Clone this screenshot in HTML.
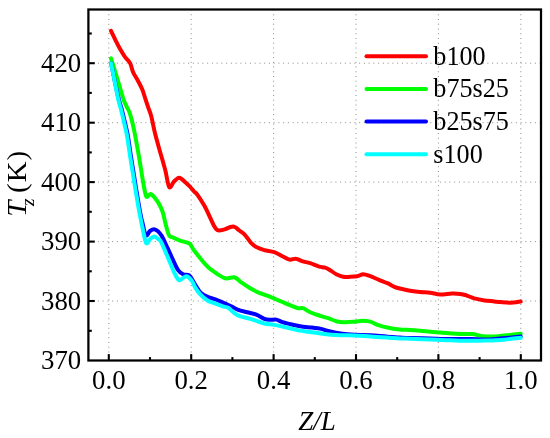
<!DOCTYPE html><html><head><meta charset="utf-8"><title>Tz vs Z/L</title><style>html,body{margin:0;padding:0;background:#fff}svg{display:block}text{font-family:"Liberation Serif","Times New Roman",serif;fill:#000}</style></head><body>
<svg width="550" height="438" viewBox="0 0 550 438">
<rect width="550" height="438" fill="#fff"/>
<g stroke="#8c8c8c" stroke-width="1" stroke-dasharray="1 3.75" fill="none"><line x1="108.8" y1="9.5" x2="108.8" y2="360.5"/><line x1="191.2" y1="9.5" x2="191.2" y2="360.5"/><line x1="273.6" y1="9.5" x2="273.6" y2="360.5"/><line x1="356.0" y1="9.5" x2="356.0" y2="360.5"/><line x1="438.4" y1="9.5" x2="438.4" y2="360.5"/><line x1="520.8" y1="9.5" x2="520.8" y2="360.5"/><line x1="88.4" y1="301.0" x2="541.0" y2="301.0"/><line x1="88.4" y1="241.6" x2="541.0" y2="241.6"/><line x1="88.4" y1="182.1" x2="541.0" y2="182.1"/><line x1="88.4" y1="122.7" x2="541.0" y2="122.7"/><line x1="88.4" y1="63.2" x2="541.0" y2="63.2"/></g>
<path d="M111.0 30.8C111.7 32.2 113.6 36.2 115.1 39.3C116.6 42.3 118.4 46.1 120.1 49.1C121.8 52.1 123.4 54.8 125.1 57.1C126.8 59.5 128.8 60.7 130.1 63.2C131.4 65.7 131.8 69.2 133.1 72.2C134.4 75.2 136.7 78.4 138.2 81.2C139.7 84.0 141.0 86.5 142.2 89.3C143.4 92.1 144.2 95.3 145.2 98.3C146.2 101.3 147.2 104.3 148.2 107.3C149.2 110.3 150.0 111.6 151.2 116.1C152.4 120.6 153.7 128.1 155.2 134.1C156.7 140.1 158.5 146.2 160.2 152.2C161.9 158.2 163.8 164.5 165.3 170.3C166.8 176.1 167.8 185.2 169.2 187.1C170.6 189.0 172.3 183.1 174.0 181.5C175.7 179.9 177.5 177.6 179.3 177.7C181.1 177.8 183.2 180.4 185.0 182.0C186.8 183.6 188.8 185.4 190.3 187.0C191.8 188.6 192.8 190.2 194.0 191.5C195.2 192.8 195.8 192.4 197.5 194.8C199.2 197.2 202.2 201.9 204.4 205.8C206.6 209.7 208.8 214.8 210.4 218.2C212.0 221.6 212.9 224.0 214.1 226.0C215.2 228.0 216.2 229.4 217.3 230.1C218.5 230.8 219.7 230.5 221.0 230.3C222.3 230.1 223.9 229.6 225.3 229.1C226.7 228.6 228.2 227.8 229.5 227.3C230.8 226.9 232.2 226.3 233.3 226.4C234.4 226.5 235.2 227.2 236.2 227.8C237.1 228.5 237.6 229.2 239.0 230.3C240.4 231.4 242.6 232.6 244.6 234.6C246.6 236.6 248.9 240.5 250.8 242.6C252.8 244.7 254.1 245.8 256.3 247.1C258.6 248.3 261.3 249.3 264.3 250.1C267.3 250.9 271.3 251.1 274.3 252.1C277.3 253.1 279.9 254.9 282.4 256.2C284.9 257.4 287.1 259.2 289.4 259.6C291.7 260.0 293.9 258.4 296.0 258.7C298.1 258.9 299.6 260.4 302.0 261.1C304.4 261.9 307.2 262.3 310.1 263.2C313.0 264.1 316.6 265.9 319.1 266.6C321.6 267.3 323.2 267.0 325.1 267.6C327.0 268.2 328.4 269.1 330.2 270.2C332.0 271.3 334.0 273.1 336.2 274.2C338.4 275.3 340.9 276.4 343.2 276.8C345.5 277.2 347.8 276.9 350.2 276.8C352.6 276.7 355.1 276.6 357.3 276.2C359.5 275.8 361.1 274.2 363.3 274.2C365.5 274.2 367.8 275.3 370.3 276.2C372.8 277.1 375.5 278.4 378.4 279.6C381.2 280.8 384.7 282.0 387.4 283.2C390.1 284.4 392.3 285.9 394.4 286.8C396.5 287.7 397.4 287.9 400.0 288.5C402.6 289.1 406.8 290.1 410.1 290.7C413.5 291.3 416.8 291.8 420.1 292.1C423.5 292.4 426.9 292.3 430.2 292.7C433.5 293.1 436.6 294.4 440.2 294.5C443.8 294.6 448.6 293.6 452.0 293.5C455.4 293.4 457.9 293.6 460.3 293.9C462.7 294.2 464.0 294.6 466.3 295.3C468.6 296.1 471.3 297.5 474.3 298.4C477.3 299.2 481.0 299.9 484.4 300.4C487.8 300.9 491.8 301.1 494.4 301.4C497.0 301.7 497.5 301.9 500.2 302.1C502.9 302.3 506.9 302.8 510.3 302.7C513.7 302.6 519.0 301.7 520.7 301.5" fill="none" stroke="#ff0000" stroke-width="4" stroke-linecap="round" stroke-linejoin="round"/>
<path d="M111.0 58.4C111.7 60.5 113.6 66.4 115.0 71.0C116.4 75.6 118.0 81.2 119.5 86.0C121.0 90.8 122.5 96.5 123.7 100.0C125.0 103.5 125.9 105.0 127.0 107.3C128.1 109.6 128.9 110.3 130.1 114.1C131.3 117.9 132.8 123.8 134.1 130.1C135.4 136.4 137.0 145.5 138.2 152.2C139.4 158.9 140.4 165.3 141.2 170.3C142.0 175.3 142.3 177.7 143.1 182.0C143.9 186.3 145.1 193.9 146.1 196.1C147.1 198.3 148.1 195.2 149.0 195.0C149.9 194.8 150.3 193.4 151.8 194.6C153.3 195.8 156.2 199.2 158.0 202.1C159.8 205.0 161.4 208.3 162.7 212.0C164.0 215.7 164.5 220.1 165.6 224.0C166.7 227.9 167.8 233.2 169.0 235.4C170.2 237.6 170.7 236.4 172.5 237.3C174.3 238.2 177.3 239.6 180.1 240.6C182.9 241.6 187.2 242.1 189.4 243.5C191.6 244.9 191.4 246.8 193.2 249.2C195.0 251.6 197.7 255.2 200.2 258.2C202.7 261.2 205.5 264.7 208.2 267.2C210.9 269.7 213.5 271.4 216.3 273.3C219.2 275.2 222.3 277.6 225.3 278.3C228.3 279.0 231.7 276.6 234.3 277.3C237.0 278.0 238.5 280.5 241.2 282.3C243.8 284.1 247.2 286.5 250.2 288.3C253.2 290.1 256.0 291.5 259.3 292.9C262.7 294.3 267.1 295.7 270.3 296.9C273.5 298.1 276.0 299.3 278.4 300.3C280.8 301.3 282.5 302.0 284.4 302.8C286.3 303.6 287.7 304.2 290.0 305.1C292.3 306.0 295.8 307.7 298.0 308.2C300.2 308.7 301.1 307.5 303.1 308.2C305.1 308.9 307.3 310.9 310.1 312.2C312.9 313.5 317.1 314.8 320.1 315.8C323.1 316.8 325.5 317.3 328.2 318.2C330.9 319.1 333.5 320.5 336.2 321.2C338.9 321.9 341.2 322.1 344.2 322.2C347.2 322.3 351.3 322.0 354.3 321.8C357.3 321.6 359.6 320.8 362.3 320.8C365.0 320.8 367.6 320.9 370.3 321.6C373.0 322.3 375.4 324.2 378.4 325.2C381.4 326.2 384.8 327.1 388.4 327.8C392.0 328.5 396.4 329.3 400.0 329.6C403.6 330.0 406.8 329.7 410.1 329.9C413.5 330.1 416.8 330.4 420.1 330.7C423.5 331.0 426.9 331.4 430.2 331.7C433.5 332.0 435.9 332.1 440.2 332.4C444.5 332.7 450.8 333.4 456.1 333.7C461.4 334.0 468.1 333.8 472.1 334.1C476.1 334.4 477.5 335.3 480.2 335.7C482.9 336.1 485.2 336.5 488.2 336.6C491.2 336.7 494.5 336.5 498.2 336.2C501.9 336.0 506.6 335.3 510.3 334.9C514.1 334.5 519.0 334.0 520.7 333.8" fill="none" stroke="#00ff00" stroke-width="4" stroke-linecap="round" stroke-linejoin="round"/>
<path d="M111.2 63.2C111.9 66.7 114.1 77.9 115.4 84.0C116.7 90.1 118.1 96.1 119.0 100.0C120.0 103.9 120.4 104.3 121.2 107.3C122.0 110.3 122.8 113.3 123.9 118.1C125.0 122.9 126.8 130.1 127.9 136.1C129.0 142.1 129.7 148.4 130.6 154.2C131.5 160.0 132.4 165.4 133.3 171.0C134.2 176.6 134.8 180.8 136.0 188.0C137.2 195.2 139.4 208.5 140.5 214.2C141.6 219.9 141.4 218.5 142.3 222.0C143.2 225.5 144.6 233.8 145.9 235.3C147.2 236.8 148.6 232.0 150.0 231.0C151.4 230.0 152.9 229.1 154.2 229.2C155.5 229.2 156.7 230.2 158.0 231.3C159.3 232.5 160.2 233.3 161.8 236.1C163.4 238.9 165.7 244.2 167.6 248.2C169.5 252.2 171.3 256.5 173.1 260.2C174.8 263.9 176.4 267.8 178.1 270.2C179.8 272.6 181.2 273.4 183.1 274.3C184.9 275.2 187.5 274.1 189.2 275.3C190.9 276.5 192.1 279.5 193.2 281.3C194.3 283.1 194.7 284.1 196.0 286.1C197.3 288.1 199.0 291.3 201.0 293.1C203.0 294.9 205.6 296.0 208.1 297.1C210.6 298.2 213.4 298.6 216.1 299.6C218.8 300.6 221.6 302.1 224.1 303.2C226.6 304.3 228.8 305.1 231.2 306.2C233.5 307.3 235.5 308.8 238.2 309.8C240.9 310.8 244.2 311.4 247.2 312.2C250.2 313.0 253.5 313.5 256.3 314.6C259.2 315.7 262.0 317.9 264.3 318.8C266.6 319.7 268.3 319.7 270.3 319.8C272.3 319.9 274.3 319.2 276.3 319.6C278.3 320.0 280.0 321.4 282.4 322.2C284.8 323.0 287.5 323.5 290.4 324.2C293.3 324.9 296.4 325.7 300.0 326.3C303.6 326.9 308.8 327.2 312.1 327.6C315.5 328.0 317.1 328.0 320.1 328.6C323.1 329.2 326.5 330.6 330.2 331.5C333.9 332.4 338.2 333.2 342.2 333.8C346.2 334.4 349.6 334.6 354.3 334.8C359.0 335.0 365.0 334.9 370.3 335.2C375.6 335.5 381.4 336.2 386.4 336.6C391.3 337.0 396.1 337.4 400.0 337.6C403.9 337.8 405.0 337.9 410.0 338.0C415.0 338.1 423.3 338.3 430.0 338.5C436.7 338.7 443.5 339.0 450.2 339.1C456.9 339.2 464.3 338.9 470.3 339.0C476.3 339.1 481.4 339.7 486.4 339.6C491.3 339.5 494.3 339.0 500.0 338.5C505.7 338.0 517.2 336.8 520.7 336.5" fill="none" stroke="#0000ff" stroke-width="4" stroke-linecap="round" stroke-linejoin="round"/>
<path d="M111.1 63.2C111.8 66.7 114.0 77.9 115.2 84.0C116.4 90.1 117.5 96.1 118.4 100.0C119.3 103.9 119.6 104.3 120.4 107.3C121.2 110.3 122.0 113.3 123.1 118.1C124.2 122.9 126.0 130.1 127.1 136.1C128.2 142.1 128.9 148.4 129.8 154.2C130.7 160.0 131.6 165.4 132.5 171.0C133.4 176.6 134.0 180.8 135.2 188.0C136.4 195.2 138.3 206.8 139.7 214.2C141.1 221.6 142.3 227.3 143.4 232.2C144.5 237.0 145.2 242.2 146.3 243.3C147.5 244.4 149.0 239.8 150.3 238.7C151.6 237.5 152.9 236.3 154.3 236.4C155.7 236.5 157.4 238.4 158.6 239.3C159.8 240.2 159.9 239.8 161.2 242.1C162.4 244.4 164.4 249.3 166.1 253.2C167.8 257.1 169.6 261.7 171.1 265.2C172.6 268.7 173.8 271.8 175.1 274.3C176.4 276.8 177.8 279.7 179.1 280.3C180.4 280.9 181.7 278.7 183.0 278.0C184.3 277.3 185.6 275.8 187.1 276.3C188.6 276.9 190.9 279.5 192.2 281.3C193.5 283.1 193.7 285.0 195.0 287.1C196.3 289.2 198.0 291.9 200.0 294.1C202.0 296.3 204.8 298.7 207.1 300.2C209.4 301.7 211.6 302.2 214.1 303.2C216.6 304.2 219.8 305.4 222.1 306.2C224.4 307.0 226.3 306.8 228.2 307.8C230.0 308.8 231.4 310.9 233.2 312.2C235.0 313.5 236.7 314.9 239.2 315.9C241.7 316.9 245.3 317.5 248.2 318.3C251.0 319.1 253.6 320.0 256.3 320.9C259.0 321.8 261.3 322.8 264.3 323.5C267.3 324.2 271.0 324.3 274.3 324.9C277.6 325.5 281.0 326.2 284.4 327.0C287.8 327.8 291.8 328.8 294.4 329.4C297.0 330.0 297.1 330.1 300.0 330.6C302.9 331.1 308.1 331.6 312.1 332.2C316.1 332.8 320.1 333.5 324.1 334.0C328.1 334.5 331.2 334.9 336.2 335.1C341.2 335.4 348.6 335.3 354.3 335.5C360.0 335.7 365.0 336.2 370.3 336.5C375.6 336.8 381.4 337.2 386.4 337.5C391.3 337.8 396.1 338.2 400.0 338.4C403.9 338.6 405.0 338.5 410.0 338.7C415.0 338.9 423.3 339.2 430.0 339.5C436.7 339.8 443.3 340.1 450.0 340.3C456.7 340.5 463.9 340.8 470.0 340.8C476.1 340.9 482.7 340.7 486.4 340.6C490.1 340.6 489.2 340.7 492.2 340.5C495.2 340.3 499.6 340.1 504.3 339.7C509.1 339.2 518.0 338.1 520.7 337.8" fill="none" stroke="#00ffff" stroke-width="4" stroke-linecap="round" stroke-linejoin="round"/>
<rect x="88.4" y="9.5" width="452.6" height="351.0" fill="none" stroke="#000" stroke-width="2.25"/>
<g stroke="#000" stroke-width="2.1"><line x1="108.8" y1="360.5" x2="108.8" y2="354.1"/><line x1="150.0" y1="360.5" x2="150.0" y2="357.1"/><line x1="191.2" y1="360.5" x2="191.2" y2="354.1"/><line x1="232.4" y1="360.5" x2="232.4" y2="357.1"/><line x1="273.6" y1="360.5" x2="273.6" y2="354.1"/><line x1="314.8" y1="360.5" x2="314.8" y2="357.1"/><line x1="356.0" y1="360.5" x2="356.0" y2="354.1"/><line x1="397.2" y1="360.5" x2="397.2" y2="357.1"/><line x1="438.4" y1="360.5" x2="438.4" y2="354.1"/><line x1="479.6" y1="360.5" x2="479.6" y2="357.1"/><line x1="520.8" y1="360.5" x2="520.8" y2="354.1"/><line x1="88.4" y1="330.8" x2="91.8" y2="330.8"/><line x1="88.4" y1="301.0" x2="94.8" y2="301.0"/><line x1="88.4" y1="271.3" x2="91.8" y2="271.3"/><line x1="88.4" y1="241.6" x2="94.8" y2="241.6"/><line x1="88.4" y1="211.8" x2="91.8" y2="211.8"/><line x1="88.4" y1="182.1" x2="94.8" y2="182.1"/><line x1="88.4" y1="152.4" x2="91.8" y2="152.4"/><line x1="88.4" y1="122.7" x2="94.8" y2="122.7"/><line x1="88.4" y1="92.9" x2="91.8" y2="92.9"/><line x1="88.4" y1="63.2" x2="94.8" y2="63.2"/><line x1="88.4" y1="33.5" x2="91.8" y2="33.5"/></g>
<text x="108.8" y="388.8" font-size="26.8" text-anchor="middle">0.0</text>
<text x="191.2" y="388.8" font-size="26.8" text-anchor="middle">0.2</text>
<text x="273.6" y="388.8" font-size="26.8" text-anchor="middle">0.4</text>
<text x="356.0" y="388.8" font-size="26.8" text-anchor="middle">0.6</text>
<text x="438.4" y="388.8" font-size="26.8" text-anchor="middle">0.8</text>
<text x="520.8" y="388.8" font-size="26.8" text-anchor="middle">1.0</text>
<text x="81.2" y="369.2" font-size="26.8" text-anchor="end">370</text>
<text x="81.2" y="309.7" font-size="26.8" text-anchor="end">380</text>
<text x="81.2" y="250.3" font-size="26.8" text-anchor="end">390</text>
<text x="81.2" y="190.8" font-size="26.8" text-anchor="end">400</text>
<text x="81.2" y="131.4" font-size="26.8" text-anchor="end">410</text>
<text x="81.2" y="71.9" font-size="26.8" text-anchor="end">420</text>
<text x="316.9" y="429.7" font-size="27" text-anchor="middle" font-style="italic">Z/L</text>
<text transform="translate(26.2,216.8) rotate(-90) scale(1.07,1)" font-size="27"><tspan x="0" font-style="italic">T</tspan><tspan x="10" font-size="18" dy="7.5" font-style="italic">z</tspan><tspan x="22.3" dy="-7.5" letter-spacing="0.9">(K)</tspan></text>
<line x1="366.5" y1="56.2" x2="426" y2="56.2" stroke="#ff0000" stroke-width="4" stroke-linecap="round"/>
<text transform="translate(433.3,64.5) scale(0.97,1)" font-size="27">b100</text>
<line x1="366.5" y1="88.9" x2="426" y2="88.9" stroke="#00ff00" stroke-width="4" stroke-linecap="round"/>
<text transform="translate(433.3,97.2) scale(0.97,1)" font-size="27">b75s25</text>
<line x1="366.5" y1="121.5" x2="426" y2="121.5" stroke="#0000ff" stroke-width="4" stroke-linecap="round"/>
<text transform="translate(433.3,129.8) scale(0.97,1)" font-size="27">b25s75</text>
<line x1="366.5" y1="154.2" x2="426" y2="154.2" stroke="#00ffff" stroke-width="4" stroke-linecap="round"/>
<text transform="translate(433.3,162.5) scale(0.97,1)" font-size="27">s100</text>
</svg></body></html>
